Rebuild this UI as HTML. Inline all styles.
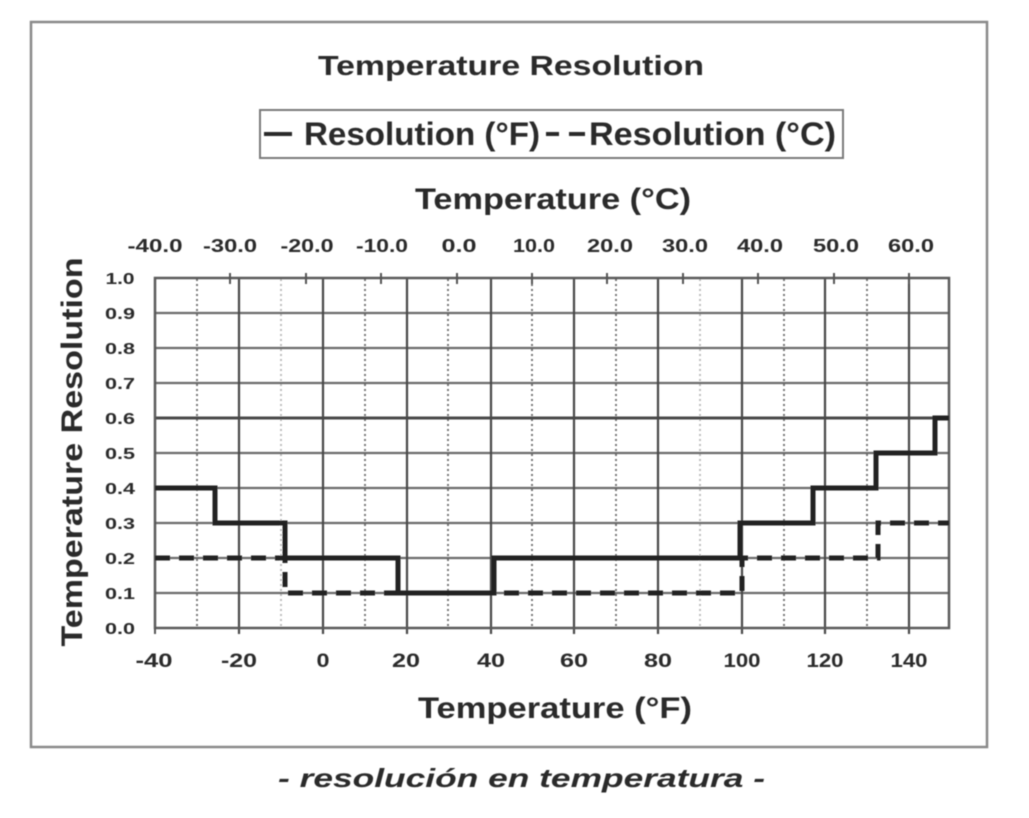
<!DOCTYPE html>
<html>
<head>
<meta charset="utf-8">
<style>
html,body{margin:0;padding:0;background:#fff;}
svg{display:block;}
text{font-family:"Liberation Sans",Arial,sans-serif;fill:#2a2a2a;}
</style>
</head>
<body>
<svg width="1029" height="818" viewBox="0 0 1029 818" xmlns="http://www.w3.org/2000/svg">
<defs>
<filter id="soft" filterUnits="userSpaceOnUse" x="0" y="0" width="1029" height="818">
<feGaussianBlur stdDeviation="0.55"/>
</filter>
</defs>
<rect x="0" y="0" width="1029" height="818" fill="#fff"/>
<g filter="url(#soft)">
<!-- outer frame -->
<rect x="31" y="22" width="956" height="725" fill="none" stroke="#8a8a8a" stroke-width="2.5"/>

<!-- title -->
<text x="318" y="75" font-size="28" font-weight="bold" textLength="386" lengthAdjust="spacingAndGlyphs">Temperature Resolution</text>

<!-- legend -->
<rect x="260" y="110" width="583" height="48" fill="none" stroke="#7a7a7a" stroke-width="2"/>
<line x1="264" y1="134" x2="292" y2="134" stroke="#2a2a2a" stroke-width="4"/>
<text x="304" y="145" font-size="32" font-weight="bold" textLength="236" lengthAdjust="spacingAndGlyphs">Resolution (°F)</text>
<line x1="546" y1="134" x2="559" y2="134" stroke="#2a2a2a" stroke-width="4"/>
<line x1="569" y1="134" x2="585" y2="134" stroke="#2a2a2a" stroke-width="4"/>
<text x="589" y="145" font-size="32" font-weight="bold" textLength="247" lengthAdjust="spacingAndGlyphs">Resolution (°C)</text>

<!-- top axis title -->
<text x="415" y="209" font-size="30" font-weight="bold" textLength="276" lengthAdjust="spacingAndGlyphs">Temperature (°C)</text>

<!-- top tick labels (Celsius) -->
<g font-size="18" font-weight="bold" text-anchor="middle">
<text x="155" y="252" textLength="55" lengthAdjust="spacingAndGlyphs">-40.0</text>
<text x="230" y="252" textLength="54" lengthAdjust="spacingAndGlyphs">-30.0</text>
<text x="307" y="252" textLength="53" lengthAdjust="spacingAndGlyphs">-20.0</text>
<text x="382" y="252" textLength="52" lengthAdjust="spacingAndGlyphs">-10.0</text>
<text x="459" y="252" textLength="35" lengthAdjust="spacingAndGlyphs">0.0</text>
<text x="534" y="252" textLength="42" lengthAdjust="spacingAndGlyphs">10.0</text>
<text x="610" y="252" textLength="46" lengthAdjust="spacingAndGlyphs">20.0</text>
<text x="685" y="252" textLength="46" lengthAdjust="spacingAndGlyphs">30.0</text>
<text x="760" y="252" textLength="46" lengthAdjust="spacingAndGlyphs">40.0</text>
<text x="836" y="252" textLength="46" lengthAdjust="spacingAndGlyphs">50.0</text>
<text x="911" y="252" textLength="46" lengthAdjust="spacingAndGlyphs">60.0</text>
</g>

<!-- dotted minor gridlines (odd 10 F) -->
<g stroke="#6a6a6a" stroke-width="1.8" stroke-dasharray="2 3">
<line x1="197" y1="279" x2="197" y2="628"/>
<line x1="281" y1="279" x2="281" y2="628" stroke="#b8b8b8"/>
<line x1="365" y1="279" x2="365" y2="628"/>
<line x1="448" y1="279" x2="448" y2="628"/>
<line x1="532" y1="279" x2="532" y2="628"/>
<line x1="616" y1="279" x2="616" y2="628"/>
<line x1="700" y1="279" x2="700" y2="628" stroke="#b8b8b8"/>
<line x1="784" y1="279" x2="784" y2="628"/>
<line x1="867" y1="279" x2="867" y2="628"/>
</g>

<!-- horizontal gridlines -->
<g stroke="#6a6a6a" stroke-width="2.2">
<line x1="155" y1="313" x2="949" y2="313"/>
<line x1="155" y1="348" x2="949" y2="348"/>
<line x1="155" y1="383" x2="949" y2="383"/>
<line x1="155" y1="418" x2="949" y2="418" stroke="#4a4a4a" stroke-width="3"/>
<line x1="155" y1="453" x2="949" y2="453"/>
<line x1="155" y1="488" x2="949" y2="488"/>
<line x1="155" y1="523" x2="949" y2="523"/>
<line x1="155" y1="558" x2="949" y2="558"/>
<line x1="155" y1="593" x2="949" y2="593"/>
</g>

<!-- vertical major gridlines (every 20 F) -->
<g stroke="#4a4a4a" stroke-width="2.2">
<line x1="239" y1="278" x2="239" y2="634"/>
<line x1="323" y1="278" x2="323" y2="634"/>
<line x1="407" y1="278" x2="407" y2="634"/>
<line x1="491" y1="278" x2="491" y2="634"/>
<line x1="574" y1="278" x2="574" y2="634"/>
<line x1="658" y1="278" x2="658" y2="634"/>
<line x1="742" y1="278" x2="742" y2="634"/>
<line x1="825" y1="278" x2="825" y2="634"/>
<line x1="909" y1="278" x2="909" y2="634"/>
</g>

<!-- plot border -->
<rect x="155" y="278" width="794" height="350" fill="none" stroke="#5a5a5a" stroke-width="2.5"/>
<line x1="155" y1="628" x2="155" y2="634" stroke="#555" stroke-width="2"/>

<!-- top ticks (Celsius) -->
<g stroke="#555" stroke-width="2">
<line x1="230" y1="273" x2="230" y2="284"/>
<line x1="306" y1="273" x2="306" y2="284"/>
<line x1="381" y1="273" x2="381" y2="284"/>
<line x1="457" y1="273" x2="457" y2="284"/>
<line x1="532" y1="273" x2="532" y2="284"/>
<line x1="607" y1="273" x2="607" y2="284"/>
<line x1="683" y1="273" x2="683" y2="284"/>
<line x1="758" y1="273" x2="758" y2="284"/>
<line x1="834" y1="273" x2="834" y2="284"/>
<line x1="909" y1="273" x2="909" y2="284"/>
</g>

<!-- series: Resolution (C) dashed -->
<path d="M155,558 H285 V593 H742 V558 H878 V523 H949" fill="none" stroke="#222" stroke-width="5" stroke-dasharray="15 9"/>
<!-- series: Resolution (F) solid -->
<path d="M155,488 H215 V523 H285 V558 H398 V593 H494 V558 H740 V523 H813 V488 H876 V453 H935 V418 H949" fill="none" stroke="#222" stroke-width="5"/>

<!-- y tick labels -->
<g font-size="16" font-weight="bold" text-anchor="middle">
<text x="120" y="284" textLength="29" lengthAdjust="spacingAndGlyphs">1.0</text>
<text x="120" y="319" textLength="30" lengthAdjust="spacingAndGlyphs">0.9</text>
<text x="120" y="354" textLength="30" lengthAdjust="spacingAndGlyphs">0.8</text>
<text x="120" y="389" textLength="30" lengthAdjust="spacingAndGlyphs">0.7</text>
<text x="120" y="424" textLength="30" lengthAdjust="spacingAndGlyphs">0.6</text>
<text x="120" y="459" textLength="30" lengthAdjust="spacingAndGlyphs">0.5</text>
<text x="120" y="494" textLength="30" lengthAdjust="spacingAndGlyphs">0.4</text>
<text x="120" y="529" textLength="30" lengthAdjust="spacingAndGlyphs">0.3</text>
<text x="120" y="564" textLength="30" lengthAdjust="spacingAndGlyphs">0.2</text>
<text x="120" y="599" textLength="30" lengthAdjust="spacingAndGlyphs">0.1</text>
<text x="120" y="634" textLength="30" lengthAdjust="spacingAndGlyphs">0.0</text>
</g>

<!-- y axis title -->
<text transform="translate(82,452) rotate(-90)" x="0" y="0" font-size="30" font-weight="bold" text-anchor="middle" textLength="389" lengthAdjust="spacingAndGlyphs">Temperature Resolution</text>

<!-- bottom tick labels -->
<g font-size="19" font-weight="bold" text-anchor="middle">
<text x="154" y="667" textLength="37" lengthAdjust="spacingAndGlyphs">-40</text>
<text x="239" y="667" textLength="36" lengthAdjust="spacingAndGlyphs">-20</text>
<text x="323" y="667" textLength="13" lengthAdjust="spacingAndGlyphs">0</text>
<text x="406" y="667" textLength="28" lengthAdjust="spacingAndGlyphs">20</text>
<text x="491" y="667" textLength="28" lengthAdjust="spacingAndGlyphs">40</text>
<text x="574" y="667" textLength="28" lengthAdjust="spacingAndGlyphs">60</text>
<text x="658" y="667" textLength="28" lengthAdjust="spacingAndGlyphs">80</text>
<text x="742" y="667" textLength="37" lengthAdjust="spacingAndGlyphs">100</text>
<text x="825" y="667" textLength="37" lengthAdjust="spacingAndGlyphs">120</text>
<text x="909" y="667" textLength="37" lengthAdjust="spacingAndGlyphs">140</text>
</g>

<!-- bottom axis title -->
<text x="418" y="718" font-size="30" font-weight="bold" textLength="274" lengthAdjust="spacingAndGlyphs">Temperature (°F)</text>

<!-- caption -->
<text x="278" y="787" font-size="26" font-weight="bold" font-style="italic" textLength="487" lengthAdjust="spacingAndGlyphs">- resolución en temperatura -</text>
</g>
</svg>
</body>
</html>
